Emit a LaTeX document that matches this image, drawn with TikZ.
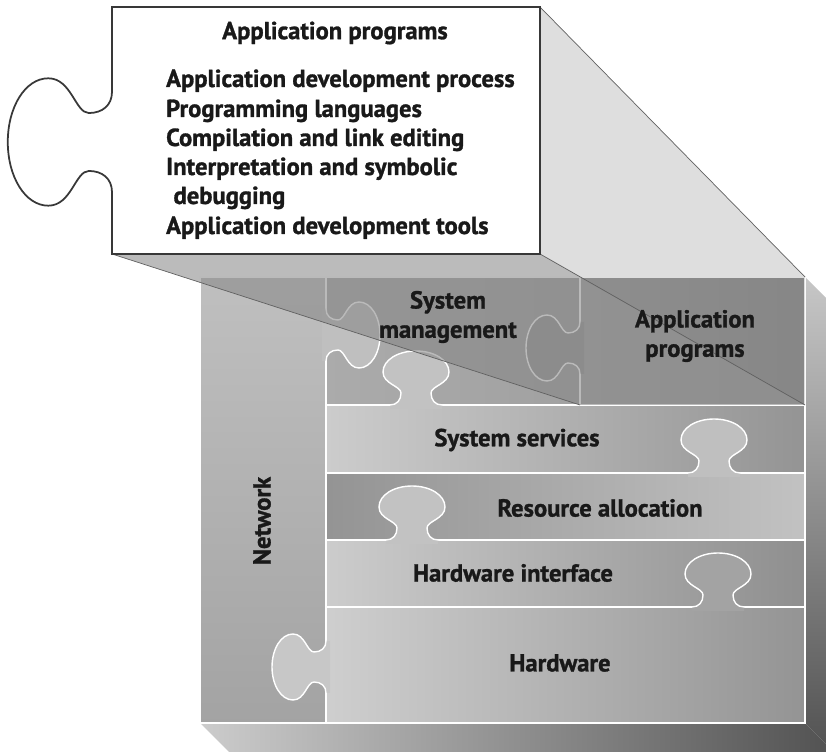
\documentclass[tikz,border=0pt]{standalone}
\usepackage{fontspec}
\setmainfont{PT Sans}[BoldFeatures={FakeBold=1.2}]

\tikzset{
  seam/.style={white, line width=1.2pt},
  rim/.style={black!62, line width=0.6pt},
  callout/.style={black!78, line width=1.5pt},
  piecetext/.style={font=\fontsize{21}{25}\selectfont\bfseries, text=black!90, align=center},
  itemtext/.style={font=\fontsize{21}{25}\selectfont\bfseries, text=black!90, anchor=base west},
}

% outline of one puzzle knob, base on the x axis, pointing up
\newcommand{\knobcurve}{(-26,0) .. controls (-19,0) and (-15,5) .. (-15,12)
  .. controls (-15,19) and (-33,21) .. (-33,33) .. controls (-33,45) and (-18,54) .. (0,54)
  .. controls (18,54) and (33,45) .. (33,33) .. controls (33,21) and (15,19) .. (15,12)
  .. controls (15,5) and (19,0) .. (26,0)}
% knob: position, angle, fill, edge style, scale
\newcommand{\knob}[5]{%
  \begin{scope}[shift={#1}, rotate=#2, scale=#5]
    \fill[#3] \knobcurve -- (26,-4) -- (-26,-4) -- cycle;
    \draw[#4] \knobcurve;
  \end{scope}}

\begin{document}
\begin{tikzpicture}[x=0.3mm, y=0.3mm]
\useasboundingbox (0,0) rectangle (826,752);

% Depth of the slab
\begin{scope}
  \clip (0,0) rectangle (826,752);
  \shade[top color=black!22, bottom color=black!68] (805,475) -- (835,445) -- (835,-1) -- (805,29) -- cycle;
  \shade[left color=black!20, right color=black!68] (200,29) -- (805,29) -- (835,-1) -- (230,-1) -- cycle;
\end{scope}

% Network column and layers
\shade[top color=black!25, bottom color=black!36] (200,29) rectangle (326,475);
\shade[left color=black!33, right color=black!37] (326,347) rectangle (580,475); % system management
\shade[left color=black!36, right color=black!39] (580,347) rectangle (805,475); % application programs
\foreach \ylo/\yhi/\cl/\cr in {279/347/20/42, 212/279/42/24, 145/212/20/44, 29/145/19/42}
  \shade[left color=black!\cl, right color=black!\cr] (326,\ylo) rectangle (805,\yhi);

% Seams
\draw[seam] (326,29) -- (326,475);
\draw[seam] (580,347) -- (580,475);
\foreach \y in {145,212,279,347}
  \draw[seam] (326,\y) -- (805,\y);
\draw[seam] (200,29) rectangle (805,475);

% Knobs
\knob{(326,417)}{-90}{black!25}{seam}{1}
\knob{(580,404)}{90}{black!41}{seam}{1}
\knob{(416,347)}{0}{black!24}{seam}{1}
\knob{(714,279)}{0}{black!25}{seam}{1}
\knob{(412,212)}{0}{black!24}{seam}{1}
\knob{(718,145)}{0}{black!36}{seam}{1}
\knob{(326,85)}{90}{black!22}{seam}{1}

% Corners of the callout and of the piece it opens
\coordinate (cbl) at (112,498);
\coordinate (cbr) at (540,498);
\coordinate (ctr) at (540,745);
\coordinate (ctl) at (112,745);
\coordinate (atr) at (805,475);
\coordinate (abr) at (805,347);
\coordinate (abl) at (580,347);

% Projection
\fill[black!48, opacity=0.56] (cbl) -- (cbr) -- (abr) -- (abl) -- cycle;
\fill[black, opacity=0.13] (cbr) -- (ctr) -- (atr) -- (abr) -- cycle;
\draw[rim] (cbl) -- (abl);
\draw[rim] (cbr) -- (abr);
\draw[rim] (ctr) -- (atr);

% Callout
\fill[white] (cbl) rectangle (ctr);
\knob{(112,610)}{90}{white}{callout}{1.93}
\draw[callout] (112,660) -- (ctl) -- (ctr) -- (cbr) -- (cbl) -- (112,560);

\node[piecetext] (title) at (335,719) {Application programs};
\foreach \i/\y/\txt in {1/665/Application development process, 2/635/Programming languages,
    3/606/Compilation and link editing, 4/577/Interpretation and symbolic,
    5/548/\hspace{0.3em}debugging, 6/518/Application development tools}
  \node[itemtext] (item\i) at (162,\y) {\txt};

% Labels
\node[piecetext] (sysmgmt) at (448,435) {System\\management};
\node[piecetext] (appprog) at (695,416) {Application\\programs};
\node[piecetext] (syssrv) at (517,312) {System services};
\node[piecetext] (resalloc) at (600,244) {Resource allocation};
\node[piecetext] (hwif) at (513,179) {Hardware interface};
\node[piecetext] (hw) at (560,89) {Hardware};
\node[piecetext, rotate=90] (net) at (262,231) {Network};
\end{tikzpicture}
\end{document}
